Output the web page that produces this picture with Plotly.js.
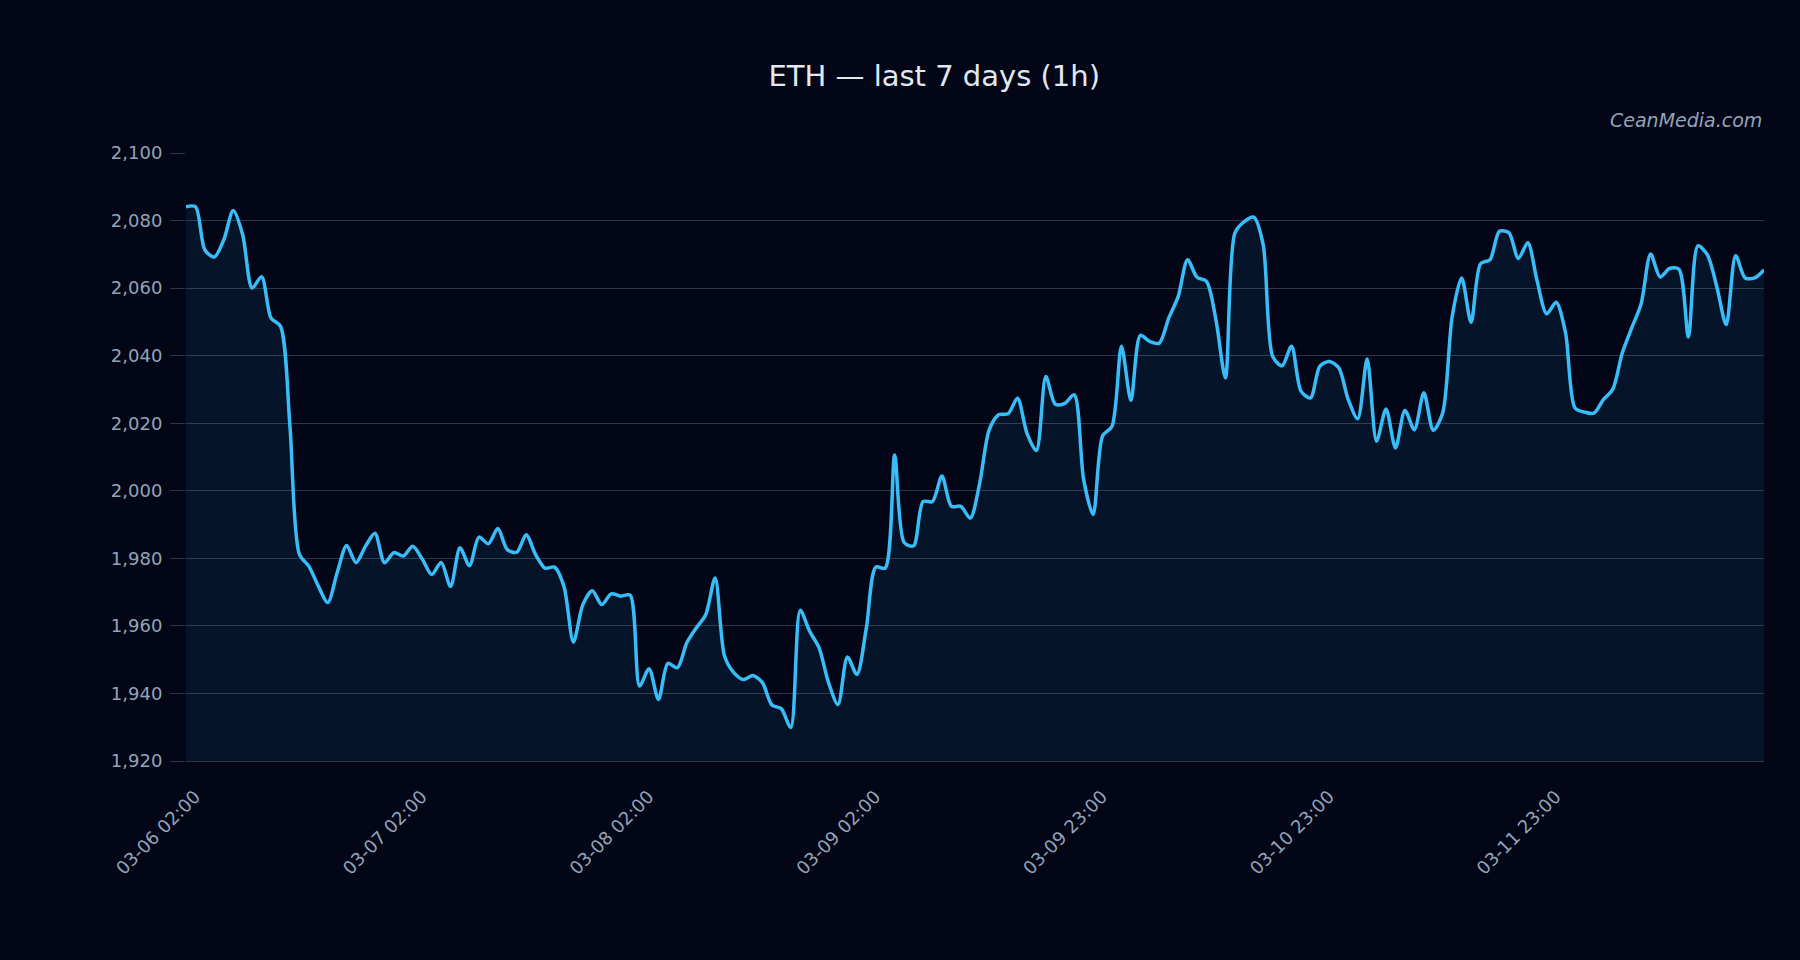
<!DOCTYPE html>
<html>
<head>
<meta charset="utf-8">
<script src="https://cdn.plot.ly/plotly-3.0.1.min.js"></script>
<style>
  html, body { margin: 0; padding: 0; background: #020617; }
  #chart { width: 1800px; height: 960px; }
</style>
</head>
<body>
<div id="chart"></div>
<script>
// Hourly ETH close prices (USD)
const prices = [
  2084.1, 2084.1, 2071.3, 2069.2, 2074.3, 2083.0, 2075.8, 2060.0, 2063.4, 2051.1,
  2048.7, 2019.1, 1981.2, 1977.7, 1971.8, 1966.9, 1975.8, 1983.8, 1978.7, 1983.6,
  1987.4, 1978.7, 1981.7, 1980.7, 1983.6, 1979.8, 1975.2, 1978.8, 1971.7, 1983.1,
  1977.8, 1986.3, 1984.3, 1988.8, 1982.6, 1981.8, 1987.0, 1981.1, 1977.1, 1977.4,
  1971.7, 1955.2, 1966.3, 1970.4, 1966.3, 1969.5, 1968.8, 1969.1, 1942.2, 1947.3,
  1938.2, 1948.9, 1947.6, 1955.0, 1959.4, 1963.3, 1974.2, 1951.0, 1946.1, 1944.1,
  1945.3, 1943.2, 1936.6, 1935.5, 1929.9, 1964.6, 1958.4, 1953.5, 1943.2, 1936.7,
  1950.8, 1945.6, 1959.4, 1977.4, 1977.1, 2010.6, 1984.7, 1983.7, 1996.8, 1996.8,
  2004.4, 1995.4, 1995.4, 1991.9, 2002.3, 2018.0, 2022.5, 2022.8, 2027.4, 2017.0,
  2011.9, 2033.8, 2025.6, 2025.9, 2028.4, 2003.3, 1993.0, 2016.2, 2019.1, 2042.8,
  2026.8, 2046.0, 2044.2, 2043.7, 2051.1, 2057.5, 2068.4, 2063.2, 2062.0, 2050.6,
  2033.4, 2076.3, 2079.7, 2081.0, 2072.8, 2039.8, 2037.0, 2042.8, 2029.5, 2027.5,
  2036.9, 2038.3, 2036.4, 2027.0, 2021.3, 2039.0, 2014.7, 2024.2, 2012.7, 2023.8,
  2018.1, 2029.0, 2017.9, 2023.1, 2051.6, 2063.0, 2049.9, 2067.2, 2068.4, 2076.8,
  2076.4, 2068.8, 2073.4, 2062.0, 2052.4, 2055.8, 2046.7, 2024.5, 2023.3, 2023.0,
  2027.0, 2030.1, 2040.8, 2048.2, 2055.4, 2070.1, 2063.3, 2065.8, 2065.6, 2045.5,
  2072.5, 2069.9, 2060.5, 2049.2, 2069.6, 2063.0, 2063.0, 2065.4
];

// Tick positions (hour index) and their labels
const tickIndex = [0, 24, 48, 72, 96, 120, 144];
const tickLabels = ["03-06 02:00", "03-07 02:00", "03-08 02:00", "03-09 02:00",
                    "03-09 23:00", "03-10 23:00", "03-11 23:00"];

const titleText = "ETH — last 7 days (1h)";
const watermark = "CeanMedia.com";

const hours = prices.map((_, i) => i);

const trace = {
  x: hours,
  y: prices,
  type: "scatter",
  mode: "lines",
  line: { color: "#38bdf8", width: 3.5, shape: "spline", smoothing: 0.8 },
  fill: "tozeroy",
  fillcolor: "rgba(56,189,248,0.08)",
  hoverinfo: "skip"
};

const font = "DejaVu Sans, sans-serif";

const layout = {
  width: 1800,
  height: 960,
  paper_bgcolor: "#020617",
  plot_bgcolor: "#020617",
  margin: { l: 186, r: 36, t: 153, b: 199, pad: 0 },
  showlegend: false,
  font: { family: font, color: "#94a3b8", size: 18 },
  title: {
    text: titleText,
    font: { family: font, size: 29, color: "#e2e8f0" },
    x: 0.519, xref: "container", xanchor: "center",
    y: 0.921, yref: "container", yanchor: "middle"
  },
  xaxis: {
    range: [0, prices.length - 1],
    tickmode: "array",
    tickvals: tickIndex,
    ticktext: tickLabels,
    tickangle: -45,
    showgrid: false,
    zeroline: false,
    showline: true,
    linecolor: "rgba(148,163,184,0.3)",
    linewidth: 1,
    ticks: "outside",
    ticklen: 10,
    tickcolor: "rgba(0,0,0,0)",
    ticklabelstandoff: 7,
    ticklabelshift: 9,
    tickfont: { family: font, size: 18, color: "#94a3b8" }
  },
  yaxis: {
    range: [1920, 2100],
    dtick: 20,
    tick0: 1920,
    tickformat: ",d",
    showgrid: true,
    gridcolor: "rgba(148,163,184,0.3)",
    gridwidth: 1,
    zeroline: false,
    ticks: "outside",
    ticklen: 15,
    tickcolor: "rgba(148,163,184,0.3)",
    ticklabelstandoff: 4,
    tickfont: { family: font, size: 18, color: "#94a3b8" }
  },
  annotations: [{
    text: "<i>" + watermark + "</i>",
    xref: "paper", yref: "paper",
    x: 1, y: 1.055, xanchor: "right", yanchor: "middle",
    showarrow: false,
    font: { family: font, size: 19, color: "#94a3b8" }
  }]
};

Plotly.newPlot("chart", [trace], layout, { displayModeBar: false, staticPlot: true });
</script>
</body>
</html>
